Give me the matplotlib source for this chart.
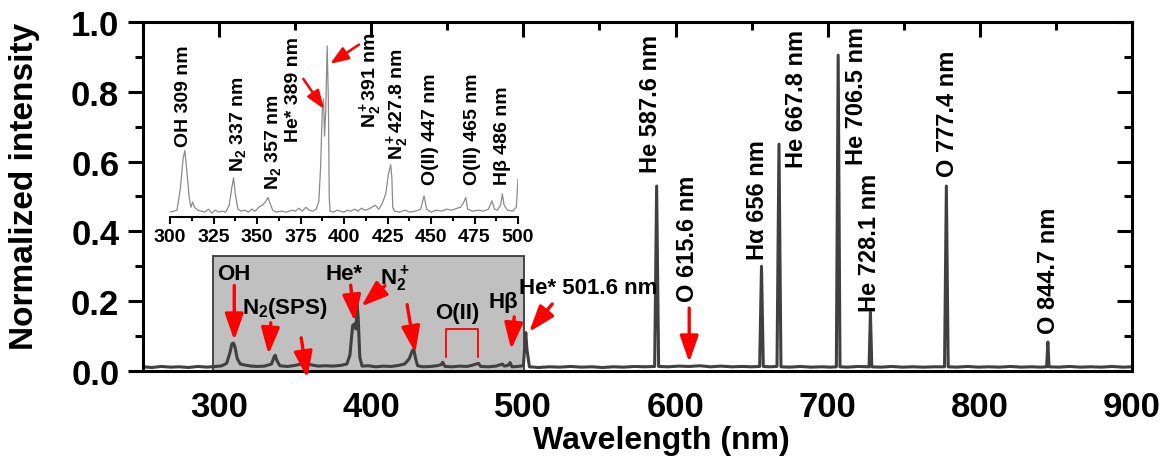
import matplotlib
matplotlib.use("Agg")
import matplotlib.pyplot as plt
from matplotlib.patches import Rectangle
from matplotlib.ticker import MultipleLocator

plt.rcParams['font.family'] = ['Liberation Sans', 'DejaVu Sans']
plt.rcParams['font.weight'] = 'bold'
plt.rcParams['mathtext.fontset'] = 'custom'
plt.rcParams['mathtext.rm'] = 'Liberation Sans:bold'
plt.rcParams['mathtext.it'] = 'Liberation Sans:bold'
plt.rcParams['mathtext.bf'] = 'Liberation Sans:bold'

# main spectrum (wavelength nm, normalized intensity)
wl = [250, 256, 262, 268, 274, 280, 286, 292, 298, 302, 305, 307, 308.5, 309.5, 310.5, 312,
      314, 317, 321, 325, 330, 334.5, 336.3, 337, 338, 340, 345, 350, 354, 357, 360, 365,
      370, 375, 380, 384, 386, 387.8, 389, 390, 390.8, 391.5, 392.5, 394, 398, 403, 408, 413,
      418, 422, 425, 427, 428, 429.2, 430.5, 434, 439, 443, 446, 447, 448.5, 453, 458, 463,
      466, 469, 470.5, 472, 477, 482, 485, 486.2, 487.5, 490, 491.3, 492.5, 496, 500, 500.9,
      501.6, 502.4, 504, 510, 517, 524, 531, 538, 545, 552, 559, 566, 573, 580, 586.3,
      587.6, 588.9, 595, 602, 609, 616, 623, 630, 637, 644, 650, 655.3, 656.5, 657.7, 662,
      666.7, 668, 669.3, 675, 682, 689, 696, 702, 705.7, 706.9, 708.1, 713, 720, 727.2,
      728.1, 729, 735, 742, 749, 756, 763, 770, 776.8, 778, 779.2, 785, 792, 799, 806, 813,
      820, 827, 834, 840, 843.9, 844.7, 845.5, 852, 859, 866, 873, 880, 887, 894, 900]
inten = [0.012, 0.010, 0.013, 0.011, 0.012, 0.010, 0.013, 0.011, 0.013, 0.015, 0.022, 0.050,
         0.078, 0.080, 0.068, 0.035, 0.020, 0.017, 0.014, 0.013, 0.014, 0.020, 0.042, 0.045,
         0.030, 0.015, 0.013, 0.016, 0.020, 0.025, 0.018, 0.014, 0.015, 0.014, 0.016, 0.020,
         0.045, 0.130, 0.135, 0.120, 0.190, 0.150, 0.040, 0.014, 0.015, 0.012, 0.014, 0.013,
         0.016, 0.020, 0.035, 0.058, 0.062, 0.035, 0.015, 0.012, 0.013, 0.015, 0.018, 0.025,
         0.013, 0.012, 0.014, 0.013, 0.016, 0.020, 0.022, 0.013, 0.012, 0.014, 0.018, 0.020,
         0.014, 0.016, 0.024, 0.012, 0.013, 0.015, 0.070, 0.110, 0.060, 0.012, 0.010, 0.012,
         0.011, 0.013, 0.011, 0.012, 0.010, 0.012, 0.011, 0.013, 0.012, 0.013, 0.530, 0.013,
         0.012, 0.014, 0.013, 0.015, 0.012, 0.014, 0.012, 0.013, 0.012, 0.013, 0.300, 0.013,
         0.012, 0.013, 0.650, 0.012, 0.011, 0.013, 0.011, 0.012, 0.011, 0.012, 0.905, 0.012,
         0.011, 0.013, 0.012, 0.168, 0.012, 0.011, 0.013, 0.011, 0.012, 0.011, 0.012, 0.012,
         0.530, 0.012, 0.011, 0.013, 0.011, 0.012, 0.011, 0.013, 0.011, 0.012, 0.011, 0.012,
         0.083, 0.012, 0.011, 0.013, 0.011, 0.012, 0.011, 0.013, 0.011, 0.012]

# inset spectrum 300-500 nm (own intensity scale)
wl_in = [300, 302, 304, 306, 307.5, 308.5, 309.5, 311, 312, 313, 314, 316, 318, 320, 322, 324,
         326, 328, 330, 332, 334, 335.5, 336.5, 337.5, 339, 341, 343, 345, 347, 349, 351, 353,
         355, 356.3, 357.5, 359, 361, 364, 367, 370, 372, 374, 376, 378, 380, 382, 384, 385.5,
         386.5, 387.5, 388.2, 388.8, 389.5, 390.3, 391, 391.5, 392, 394, 396, 398, 400, 402,
         404, 406, 408, 410, 412, 414, 416, 418, 420, 422, 424, 425.5, 426.8, 427.5, 428, 429,
         432, 435, 438, 441, 444, 446, 447.5, 450, 453, 456, 459, 462, 465, 467, 468.5, 470,
         471, 474, 477, 480, 483, 485, 486.5, 488, 490, 491, 492, 494, 497, 499, 500]
inten_in = [0.025, 0.030, 0.035, 0.150, 0.300, 0.340, 0.250, 0.100, 0.050, 0.077, 0.050, 0.035,
            0.030, 0.025, 0.040, 0.020, 0.035, 0.025, 0.030, 0.025, 0.060, 0.150, 0.200, 0.120,
            0.040, 0.030, 0.035, 0.025, 0.040, 0.030, 0.050, 0.060, 0.080, 0.100, 0.070, 0.035,
            0.025, 0.030, 0.025, 0.035, 0.030, 0.045, 0.030, 0.050, 0.035, 0.030, 0.040, 0.080,
            0.250, 0.550, 0.605, 0.415, 0.550, 0.877, 0.600, 0.100, 0.030, 0.025, 0.035, 0.030,
            0.025, 0.035, 0.030, 0.040, 0.030, 0.045, 0.035, 0.040, 0.050, 0.060, 0.040, 0.070,
            0.120, 0.220, 0.268, 0.200, 0.050, 0.030, 0.025, 0.035, 0.025, 0.030, 0.040, 0.108,
            0.040, 0.025, 0.035, 0.030, 0.040, 0.035, 0.045, 0.050, 0.070, 0.100, 0.040, 0.030,
            0.035, 0.030, 0.040, 0.083, 0.040, 0.035, 0.060, 0.118, 0.060, 0.035, 0.030, 0.050,
            0.195]

# vertical peak labels on the main plot: text, x, y of text bottom
peak_labels = ["He 587.6 nm", "O 615.6 nm", "H\u03b1 656 nm", "He 667.8 nm", "He 706.5 nm",
               "He 728.1 nm", "O 777.4 nm", "O 844.7 nm"]
peak_lab_x = [583.5, 608, 654, 679.5, 719, 727.5, 778.5, 845]
peak_lab_y = [0.57, 0.20, 0.32, 0.585, 0.593, 0.172, 0.56, 0.11]

# horizontal labels in the grey box
box_labels = ["OH", "N$_2$(SPS)", "He*", "N$_2^+$", "O(II)", "H\u03b2", "He* 501.6 nm"]
box_lab_x = [310, 343, 382, 415.5, 456.5, 486.7, 542.8]
box_lab_y = [0.278, 0.183, 0.278, 0.264, 0.169, 0.198, 0.24]

# arrows (tail -> tip) on the main plot
arr_tail = [(310, 0.245), (334, 0.138), (354, 0.095), (386.5, 0.246), (409, 0.244),
            (423.6, 0.19), (494, 0.155), (519, 0.192), (609, 0.18)]
arr_tip = [(310, 0.088), (332.5, 0.048), (358, -0.02), (389.2, 0.142), (393.5, 0.185),
           (429, 0.052), (492, 0.062), (503.8, 0.112), (609, 0.025)]

# inset labels
in_labels = ["OH 309 nm", "N$_2$ 337 nm", "N$_2$ 357 nm", "He* 389 nm", "N$_2^+$391 nm",
             "N$_2^+$427.8 nm", "O(II) 447 nm", "O(II) 465 nm", "H\u03b2 486 nm"]
in_lab_x = [307.5, 339, 359, 371, 415, 430.5, 449.5, 474, 491]
in_lab_y = [0.364, 0.236, 0.144, 0.39, 0.46, 0.297, 0.17, 0.17, 0.17]
in_arr_tail = [(376.6, 0.708), (408.6, 0.884)]
in_arr_tip = [(388.5, 0.554), (392, 0.785)]

fig = plt.figure(figsize=(11.67, 4.64), dpi=100)
ax = fig.add_axes([0.1225, 0.1983, 0.8475, 0.7522])

ax.add_patch(Rectangle((296, 0), 204.5, 0.33, facecolor='#c0c0c0', edgecolor='#3a3a3a',
                       lw=1.3, zorder=1))
ax.plot(wl, inten, color='#404040', lw=2.2, zorder=2)

ax.set_xlim(250, 900)
ax.set_ylim(0, 1.0)
ax.xaxis.set_major_locator(MultipleLocator(100))
ax.xaxis.set_minor_locator(MultipleLocator(50))
ax.yaxis.set_major_locator(MultipleLocator(0.2))
ax.yaxis.set_minor_locator(MultipleLocator(0.1))
ax.yaxis.set_major_formatter(plt.FormatStrFormatter('%.1f'))
for s in ax.spines.values():
    s.set_linewidth(2.2)
ax.tick_params(axis='x', which='both', bottom=False, length=0, pad=14, labelsize=25)
ax.tick_params(axis='y', which='major', direction='out', length=11, width=2.2, pad=6,
               labelsize=25)
ax.tick_params(axis='y', which='minor', direction='out', length=6, width=2.2)

top = ax.secondary_xaxis('top')
top.xaxis.set_major_locator(MultipleLocator(100))
top.xaxis.set_minor_locator(MultipleLocator(50))
top.tick_params(which='major', direction='in', length=11, width=2.2, labeltop=False)
top.tick_params(which='minor', direction='in', length=6, width=2.2)
right = ax.secondary_yaxis('right')
right.yaxis.set_major_locator(MultipleLocator(0.2))
right.yaxis.set_minor_locator(MultipleLocator(0.1))
right.tick_params(which='major', direction='in', length=11, width=2.2, labelright=False)
right.tick_params(which='minor', direction='in', length=6, width=2.2)

ax.set_xlabel("Wavelength (nm)", fontsize=23, fontweight='bold')
ax.set_ylabel("Normalized intensity", fontsize=24, fontweight='bold')
ax.xaxis.set_label_coords(0.524, -0.155)
ax.yaxis.set_label_coords(-0.104, 0.531)

for t, x, y in zip(peak_labels, peak_lab_x, peak_lab_y):
    ax.text(x, y, t, rotation=90, ha='center', va='bottom', fontsize=17, fontweight='bold')
for t, x, y in zip(box_labels, box_lab_x, box_lab_y):
    ax.text(x, y, t, ha='center', va='center', fontsize=16, fontweight='bold', zorder=4)

red_arrow = dict(arrowstyle='-|>,head_length=0.8,head_width=0.28', color='red', lw=2.4,
                 mutation_scale=20, shrinkA=0, shrinkB=0)
for tail, tip in zip(arr_tail, arr_tip):
    ax.annotate('', xy=tip, xytext=tail, arrowprops=red_arrow, annotation_clip=False, zorder=5)

# O(II) bracket
ax.plot([449, 449, 470.3, 470.3], [0.039, 0.12, 0.12, 0.039], color='red', lw=1.3, zorder=3)

# inset
axi = fig.add_axes([0.1457, 0.5302, 0.2982, 0.4203])
axi.patch.set_visible(False)
axi.plot(wl_in, inten_in, color='#8a8a8a', lw=0.9)
axi.set_xlim(300, 500)
axi.set_ylim(0, 1)
for k in ['left', 'right', 'top']:
    axi.spines[k].set_visible(False)
axi.spines['bottom'].set_linewidth(1.5)
axi.set_yticks([])
axi.xaxis.set_major_locator(MultipleLocator(25))
axi.xaxis.set_minor_locator(MultipleLocator(12.5))
axi.tick_params(axis='x', which='major', direction='out', length=5, width=1.5, pad=3,
                labelsize=14)
axi.tick_params(axis='x', which='minor', direction='out', length=3, width=1.5)
for t, x, y in zip(in_labels, in_lab_x, in_lab_y):
    axi.text(x, y, t, rotation=90, ha='center', va='bottom', fontsize=14, fontweight='bold')
in_arrow = dict(arrowstyle='-|>,head_length=0.8,head_width=0.3', color='red', lw=1.8,
                mutation_scale=14, shrinkA=0, shrinkB=0)
for tail, tip in zip(in_arr_tail, in_arr_tip):
    axi.annotate('', xy=tip, xytext=tail, arrowprops=in_arrow, annotation_clip=False)

fig.savefig("out.png", dpi=100)
